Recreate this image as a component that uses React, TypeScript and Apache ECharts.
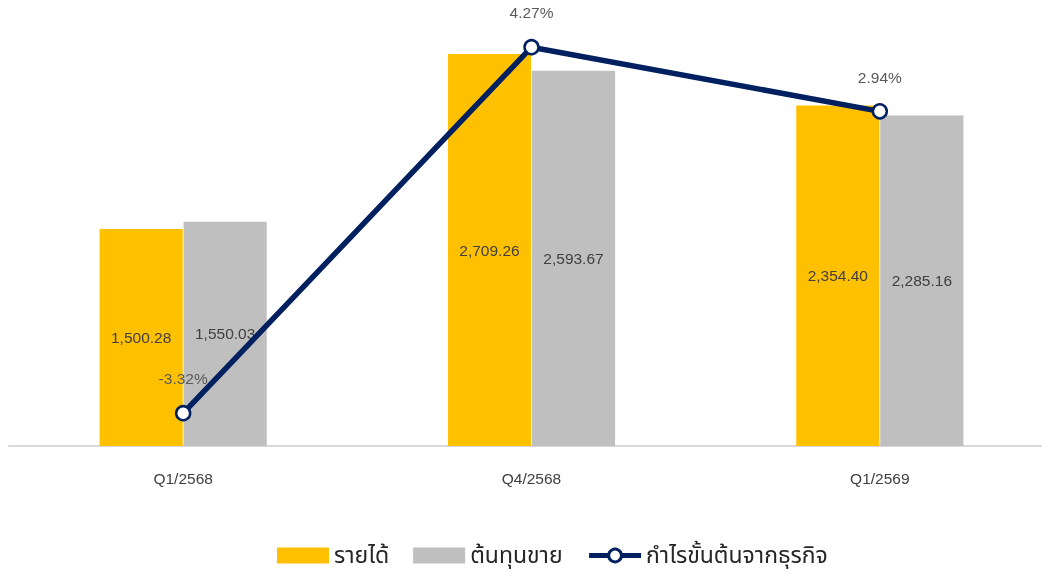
import React, { useEffect, useRef } from "react";
import * as echarts from "echarts";

const categories = ["Q1/2568", "Q4/2568", "Q1/2569"];
const revenue = [1500.28, 2709.26, 2354.4];
const cost = [1550.03, 2593.67, 2285.16];
const grossMargin = [-3.32, 4.27, 2.94];

const seriesNames = ["รายได้", "ต้นทุนขาย", "กำไรขั้นต้นจากธุรกิจ"];

const fmt = (v: number) =>
  v.toLocaleString("en-US", { minimumFractionDigits: 2, maximumFractionDigits: 2 });

export default function App() {
  const ref = useRef<HTMLDivElement>(null);
  useEffect(() => {
    if (!ref.current) return;
    const chart = echarts.init(ref.current, undefined, { renderer: "svg" });
    const font = "Arial, 'Liberation Sans', sans-serif";
    chart.setOption({
      animation: false,
      textStyle: { fontFamily: font },
      grid: { left: 9, top: 12, width: 1045, height: 434 },
      legend: {
        bottom: 1,
        left: 272,
        width: 760,
        orient: "horizontal",
        itemWidth: 52,
        itemHeight: 16,
        itemGap: 24,
        textStyle: {
          fontSize: 23,
          color: "#262626",
          fontFamily: "'Noto Sans Thai', Tahoma, 'DejaVu Sans', sans-serif",
        },
        data: [
          { name: seriesNames[0], icon: "rect" },
          { name: seriesNames[1], icon: "rect" },
          { name: seriesNames[2], itemStyle: { borderWidth: 3 }, lineStyle: { width: 5 } },
        ],
      },
      xAxis: {
        type: "category",
        data: categories,
        axisLine: { show: true, lineStyle: { color: "#D9D9D9", width: 2 } },
        axisTick: { show: false },
        axisLabel: { color: "#404040", fontSize: 15.5, margin: 24 },
      },
      yAxis: [
        { type: "value", min: 0, max: 3000, show: false },
        { type: "value", min: -4, max: 5, show: false },
      ],
      series: [
        {
          name: seriesNames[0],
          type: "bar",
          data: revenue,
          barGap: "1%",
          barCategoryGap: "52%",
          itemStyle: { color: "#FFC000" },
          label: {
            show: true,
            position: "inside",
            color: "#404040",
            fontSize: 15.5,
            formatter: (p: any) => fmt(p.value),
          },
        },
        {
          name: seriesNames[1],
          type: "bar",
          data: cost,
          itemStyle: { color: "#BFBFBF" },
          label: {
            show: true,
            position: "inside",
            color: "#404040",
            fontSize: 15.5,
            formatter: (p: any) => fmt(p.value),
          },
        },
        {
          name: seriesNames[2],
          type: "line",
          yAxisIndex: 1,
          data: grossMargin,
          symbol: "circle",
          symbolSize: 14,
          lineStyle: { color: "#002060", width: 5.5 },
          itemStyle: { color: "#FFFFFF", borderColor: "#002060", borderWidth: 2.5 },
          label: {
            show: true,
            position: "top",
            distance: 18,
            color: "#595959",
            fontSize: 15.5,
            formatter: (p: any) => p.value.toFixed(2) + "%",
          },
          z: 5,
        },
      ],
    });
    return () => chart.dispose();
  }, []);
  return (
    <div style={{ position: "fixed", left: 0, top: 0, width: 1042, height: 573, overflow: "hidden" }}>
      <div ref={ref} style={{ width: 1070, height: 573 }} />
    </div>
  );
}
